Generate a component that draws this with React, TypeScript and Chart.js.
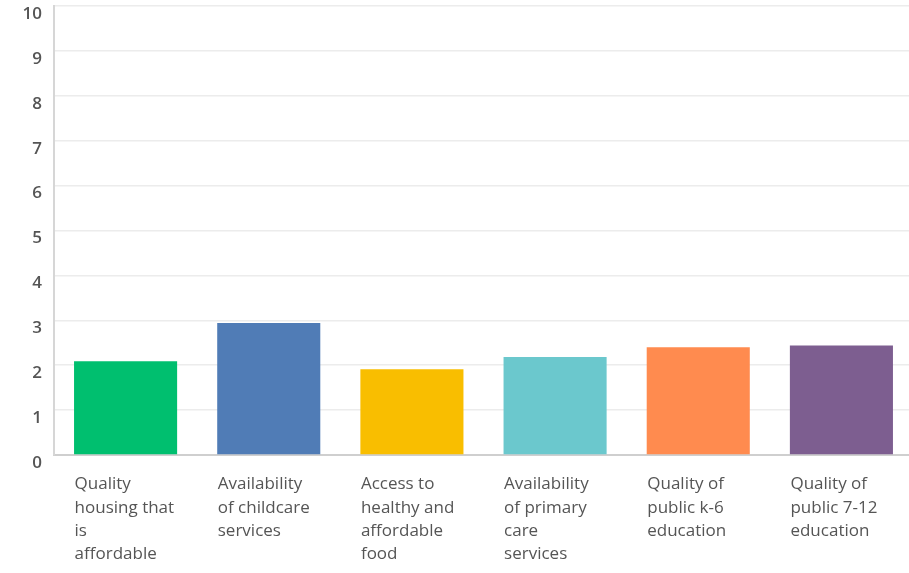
import React, { useEffect, useRef } from "react";
import { Chart, registerables } from "chart.js";

Chart.register(...registerables);

const categories: string[][] = [
  ["Quality", "housing that", "is", "affordable"],
  ["Availability", "of childcare", "services"],
  ["Access to", "healthy and", "affordable", "food"],
  ["Availability", "of primary", "care", "services"],
  ["Quality of", "public k-6", "education"],
  ["Quality of", "public 7-12", "education"],
];
const values: number[] = [2.09, 2.94, 1.91, 2.18, 2.4, 2.44];
const barColors: string[] = ["#00BF6F", "#507CB6", "#F9BE00", "#6BC8CD", "#FF8B4F", "#7D5E90"];
const yMin = 0;
const yMax = 10;
const yStep = 1;

export default function App() {
  const ref = useRef<HTMLCanvasElement | null>(null);
  useEffect(() => {
    if (!ref.current) return;
    const chart = new Chart(ref.current, {
      type: "bar",
      data: {
        labels: categories,
        datasets: [
          {
            data: values,
            backgroundColor: barColors,
            borderWidth: 0,
            barPercentage: 0.72,
            categoryPercentage: 1,
          },
        ],
      },
      options: {
        responsive: false,
        animation: false,
        layout: { padding: { top: 6, right: 0, bottom: 0, left: 0 } },
        plugins: { legend: { display: false }, tooltip: { enabled: false } },
        scales: {
          x: {
            offset: true,
            grid: { display: false, drawTicks: false },
            border: { display: true, color: "#cfcfcf", width: 2 },
            ticks: {
              align: "start",
              labelOffset: -51,
              padding: 18,
              maxRotation: 0,
              autoSkip: false,
              color: "#555555",
              font: { family: "'Open Sans', sans-serif", size: 17, lineHeight: 1.36 },
            },
            afterFit: (s: any) => {
              s.height = 118;
              s.paddingLeft = 0;
              s.paddingRight = 0;
            },
          },
          y: {
            min: yMin,
            max: yMax,
            grid: { color: "#ececec", drawTicks: false, lineWidth: 1.5 },
            border: { display: true, color: "#d6d6d6", width: 2 },
            ticks: {
              stepSize: yStep,
              padding: 12,
              labelOffset: 8,
              color: "#555555",
              font: { family: "'Open Sans', sans-serif", size: 17, weight: "600" },
            },
            afterFit: (s: any) => {
              s.width = 54;
              s.paddingTop = 0;
              s.paddingBottom = 0;
            },
          },
        },
      },
    });
    return () => chart.destroy();
  }, []);
  return (
    <div style={{ position: "fixed", left: 0, top: 0, width: 909, height: 573, overflow: "hidden", background: "#fff" }}>
      <canvas ref={ref} width={913} height={573} style={{ display: "block" }} />
    </div>
  );
}
